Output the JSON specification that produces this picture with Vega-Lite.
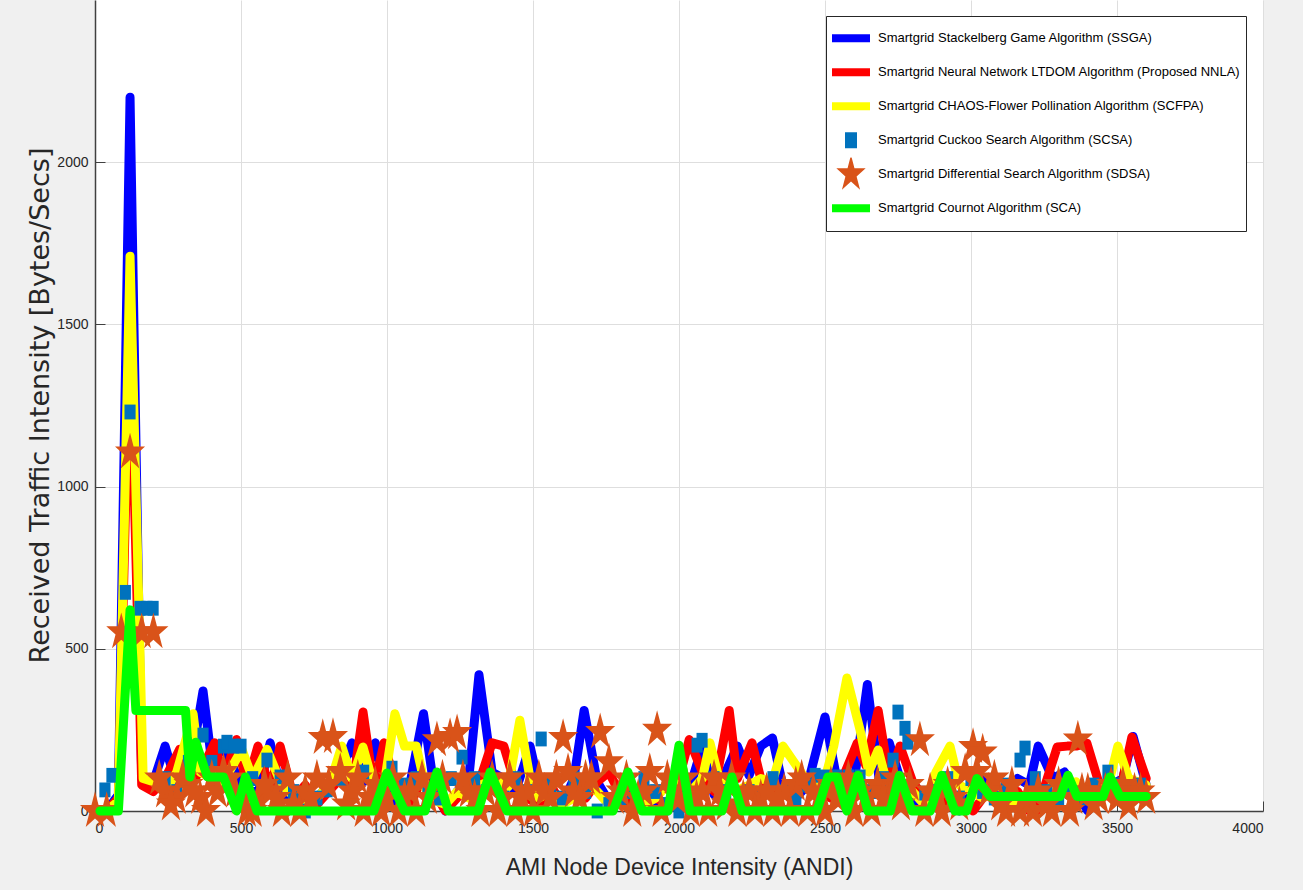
{
  "$schema": "https://vega.github.io/schema/vega-lite/v6.json",
  "width": 1168,
  "height": 811,
  "autosize": {"type": "none"},
  "padding": {"left": 95, "top": 0, "right": 40, "bottom": 79},
  "background": "#f0f0f0",
  "config": {
    "view": {"fill": "white", "stroke": null},
    "axis": {
      "domainColor": "#404040", "domainWidth": 1.5,
      "gridColor": "#dedede", "gridWidth": 1,
      "tickColor": "#404040", "tickSize": -10,
      "labelFont": "Liberation Sans", "labelFontSize": 14, "labelColor": "#262626",
      "titleColor": "#262626", "titleFontWeight": "normal"
    }
  },
  "datasets": {
    "pts": [
      {"s":"SSGA","x":0,"y":0},{"s":"SSGA","x":40,"y":0},{"s":"SSGA","x":80,"y":50},{"s":"SSGA","x":120,"y":2200},{"s":"SSGA","x":160,"y":100},{"s":"SSGA","x":200,"y":90},{"s":"SSGA","x":240,"y":200},{"s":"SSGA","x":280,"y":80},{"s":"SSGA","x":320,"y":100},{"s":"SSGA","x":370,"y":370},
      {"s":"SSGA","x":400,"y":150},{"s":"SSGA","x":440,"y":200},{"s":"SSGA","x":480,"y":120},{"s":"SSGA","x":520,"y":60},{"s":"SSGA","x":560,"y":60},{"s":"SSGA","x":600,"y":210},{"s":"SSGA","x":640,"y":50},{"s":"SSGA","x":680,"y":20},{"s":"SSGA","x":720,"y":0},{"s":"SSGA","x":760,"y":40},
      {"s":"SSGA","x":800,"y":80},{"s":"SSGA","x":840,"y":120},{"s":"SSGA","x":880,"y":210},{"s":"SSGA","x":920,"y":90},{"s":"SSGA","x":960,"y":210},{"s":"SSGA","x":1000,"y":60},{"s":"SSGA","x":1040,"y":0},{"s":"SSGA","x":1080,"y":90},{"s":"SSGA","x":1125,"y":300},{"s":"SSGA","x":1160,"y":80},
      {"s":"SSGA","x":1200,"y":0},{"s":"SSGA","x":1240,"y":60},{"s":"SSGA","x":1280,"y":100},{"s":"SSGA","x":1315,"y":420},{"s":"SSGA","x":1360,"y":120},{"s":"SSGA","x":1400,"y":100},{"s":"SSGA","x":1440,"y":60},{"s":"SSGA","x":1490,"y":200},{"s":"SSGA","x":1520,"y":80},{"s":"SSGA","x":1560,"y":40},
      {"s":"SSGA","x":1600,"y":20},{"s":"SSGA","x":1640,"y":100},{"s":"SSGA","x":1675,"y":310},{"s":"SSGA","x":1720,"y":90},{"s":"SSGA","x":1760,"y":30},{"s":"SSGA","x":1800,"y":50},{"s":"SSGA","x":1840,"y":20},{"s":"SSGA","x":1880,"y":60},{"s":"SSGA","x":1920,"y":20},{"s":"SSGA","x":1960,"y":0},
      {"s":"SSGA","x":2000,"y":40},{"s":"SSGA","x":2040,"y":80},{"s":"SSGA","x":2080,"y":200},{"s":"SSGA","x":2120,"y":50},{"s":"SSGA","x":2160,"y":120},{"s":"SSGA","x":2200,"y":200},{"s":"SSGA","x":2240,"y":110},{"s":"SSGA","x":2280,"y":200},{"s":"SSGA","x":2320,"y":225},{"s":"SSGA","x":2360,"y":60},
      {"s":"SSGA","x":2400,"y":40},{"s":"SSGA","x":2440,"y":80},{"s":"SSGA","x":2500,"y":290},{"s":"SSGA","x":2540,"y":100},{"s":"SSGA","x":2570,"y":60},{"s":"SSGA","x":2600,"y":90},{"s":"SSGA","x":2645,"y":390},{"s":"SSGA","x":2685,"y":100},{"s":"SSGA","x":2720,"y":210},{"s":"SSGA","x":2760,"y":90},
      {"s":"SSGA","x":2800,"y":50},{"s":"SSGA","x":2840,"y":0},{"s":"SSGA","x":2880,"y":60},{"s":"SSGA","x":2920,"y":30},{"s":"SSGA","x":2960,"y":0},{"s":"SSGA","x":3000,"y":50},{"s":"SSGA","x":3040,"y":100},{"s":"SSGA","x":3080,"y":60},{"s":"SSGA","x":3120,"y":40},{"s":"SSGA","x":3160,"y":100},
      {"s":"SSGA","x":3200,"y":80},{"s":"SSGA","x":3230,"y":200},{"s":"SSGA","x":3280,"y":100},{"s":"SSGA","x":3320,"y":120},{"s":"SSGA","x":3360,"y":60},{"s":"SSGA","x":3400,"y":0},{"s":"SSGA","x":3440,"y":50},{"s":"SSGA","x":3480,"y":80},{"s":"SSGA","x":3520,"y":100},{"s":"SSGA","x":3555,"y":230},{"s":"SSGA","x":3600,"y":80},

      {"s":"NNLA","x":0,"y":0},{"s":"NNLA","x":40,"y":0},{"s":"NNLA","x":80,"y":40},{"s":"NNLA","x":120,"y":1500},{"s":"NNLA","x":160,"y":80},{"s":"NNLA","x":200,"y":60},{"s":"NNLA","x":240,"y":100},{"s":"NNLA","x":290,"y":190},{"s":"NNLA","x":320,"y":80},{"s":"NNLA","x":360,"y":120},
      {"s":"NNLA","x":410,"y":210},{"s":"NNLA","x":440,"y":100},{"s":"NNLA","x":485,"y":220},{"s":"NNLA","x":520,"y":80},{"s":"NNLA","x":558,"y":200},{"s":"NNLA","x":600,"y":60},{"s":"NNLA","x":634,"y":200},{"s":"NNLA","x":680,"y":40},{"s":"NNLA","x":720,"y":80},{"s":"NNLA","x":760,"y":20},
      {"s":"NNLA","x":800,"y":60},{"s":"NNLA","x":840,"y":100},{"s":"NNLA","x":880,"y":60},{"s":"NNLA","x":918,"y":305},{"s":"NNLA","x":955,"y":70},{"s":"NNLA","x":990,"y":210},{"s":"NNLA","x":1040,"y":40},{"s":"NNLA","x":1080,"y":20},{"s":"NNLA","x":1120,"y":100},{"s":"NNLA","x":1160,"y":60},
      {"s":"NNLA","x":1200,"y":0},{"s":"NNLA","x":1240,"y":40},{"s":"NNLA","x":1280,"y":80},{"s":"NNLA","x":1320,"y":100},{"s":"NNLA","x":1360,"y":210},{"s":"NNLA","x":1400,"y":200},{"s":"NNLA","x":1440,"y":80},{"s":"NNLA","x":1480,"y":40},{"s":"NNLA","x":1520,"y":20},{"s":"NNLA","x":1560,"y":80},
      {"s":"NNLA","x":1600,"y":20},{"s":"NNLA","x":1640,"y":60},{"s":"NNLA","x":1680,"y":40},{"s":"NNLA","x":1720,"y":90},{"s":"NNLA","x":1760,"y":120},{"s":"NNLA","x":1800,"y":50},{"s":"NNLA","x":1840,"y":20},{"s":"NNLA","x":1880,"y":80},{"s":"NNLA","x":1920,"y":40},{"s":"NNLA","x":1960,"y":20},
      {"s":"NNLA","x":2000,"y":100},{"s":"NNLA","x":2035,"y":220},{"s":"NNLA","x":2080,"y":120},{"s":"NNLA","x":2120,"y":60},{"s":"NNLA","x":2172,"y":310},{"s":"NNLA","x":2200,"y":100},{"s":"NNLA","x":2250,"y":210},{"s":"NNLA","x":2280,"y":100},{"s":"NNLA","x":2320,"y":60},{"s":"NNLA","x":2360,"y":60},
      {"s":"NNLA","x":2400,"y":86},{"s":"NNLA","x":2440,"y":80},{"s":"NNLA","x":2480,"y":60},{"s":"NNLA","x":2520,"y":40},{"s":"NNLA","x":2560,"y":100},{"s":"NNLA","x":2610,"y":209},{"s":"NNLA","x":2640,"y":140},{"s":"NNLA","x":2682,"y":310},{"s":"NNLA","x":2720,"y":100},{"s":"NNLA","x":2757,"y":200},
      {"s":"NNLA","x":2800,"y":90},{"s":"NNLA","x":2840,"y":40},{"s":"NNLA","x":2880,"y":60},{"s":"NNLA","x":2920,"y":20},{"s":"NNLA","x":2960,"y":40},{"s":"NNLA","x":3007,"y":0},{"s":"NNLA","x":3040,"y":40},{"s":"NNLA","x":3080,"y":60},{"s":"NNLA","x":3120,"y":20},{"s":"NNLA","x":3160,"y":60},
      {"s":"NNLA","x":3200,"y":0},{"s":"NNLA","x":3226,"y":0},{"s":"NNLA","x":3295,"y":197},{"s":"NNLA","x":3330,"y":200},{"s":"NNLA","x":3360,"y":200},{"s":"NNLA","x":3397,"y":209},{"s":"NNLA","x":3440,"y":80},{"s":"NNLA","x":3480,"y":60},{"s":"NNLA","x":3520,"y":100},{"s":"NNLA","x":3551,"y":228},{"s":"NNLA","x":3600,"y":100},

      {"s":"SCFPA","x":0,"y":0},{"s":"SCFPA","x":40,"y":0},{"s":"SCFPA","x":80,"y":30},{"s":"SCFPA","x":120,"y":1710},{"s":"SCFPA","x":165,"y":100},{"s":"SCFPA","x":200,"y":90},{"s":"SCFPA","x":240,"y":60},{"s":"SCFPA","x":280,"y":120},{"s":"SCFPA","x":336,"y":300},{"s":"SCFPA","x":360,"y":120},
      {"s":"SCFPA","x":400,"y":100},{"s":"SCFPA","x":440,"y":90},{"s":"SCFPA","x":503,"y":190},{"s":"SCFPA","x":540,"y":100},{"s":"SCFPA","x":589,"y":190},{"s":"SCFPA","x":630,"y":100},{"s":"SCFPA","x":660,"y":60},{"s":"SCFPA","x":700,"y":40},{"s":"SCFPA","x":740,"y":20},{"s":"SCFPA","x":780,"y":60},
      {"s":"SCFPA","x":810,"y":100},{"s":"SCFPA","x":845,"y":200},{"s":"SCFPA","x":880,"y":100},{"s":"SCFPA","x":918,"y":197},{"s":"SCFPA","x":960,"y":60},{"s":"SCFPA","x":990,"y":80},{"s":"SCFPA","x":1027,"y":300},{"s":"SCFPA","x":1060,"y":200},{"s":"SCFPA","x":1100,"y":200},{"s":"SCFPA","x":1140,"y":40},
      {"s":"SCFPA","x":1200,"y":20},{"s":"SCFPA","x":1240,"y":60},{"s":"SCFPA","x":1280,"y":40},{"s":"SCFPA","x":1320,"y":80},{"s":"SCFPA","x":1380,"y":100},{"s":"SCFPA","x":1415,"y":75},{"s":"SCFPA","x":1455,"y":280},{"s":"SCFPA","x":1490,"y":100},{"s":"SCFPA","x":1520,"y":40},{"s":"SCFPA","x":1560,"y":60},
      {"s":"SCFPA","x":1600,"y":20},{"s":"SCFPA","x":1640,"y":40},{"s":"SCFPA","x":1680,"y":80},{"s":"SCFPA","x":1720,"y":60},{"s":"SCFPA","x":1760,"y":20},{"s":"SCFPA","x":1800,"y":40},{"s":"SCFPA","x":1840,"y":60},{"s":"SCFPA","x":1880,"y":20},{"s":"SCFPA","x":1920,"y":40},{"s":"SCFPA","x":1960,"y":80},
      {"s":"SCFPA","x":2000,"y":100},{"s":"SCFPA","x":2040,"y":60},{"s":"SCFPA","x":2080,"y":100},{"s":"SCFPA","x":2106,"y":210},{"s":"SCFPA","x":2140,"y":90},{"s":"SCFPA","x":2190,"y":60},{"s":"SCFPA","x":2240,"y":80},{"s":"SCFPA","x":2280,"y":100},{"s":"SCFPA","x":2320,"y":90},{"s":"SCFPA","x":2356,"y":200},
      {"s":"SCFPA","x":2425,"y":110},{"s":"SCFPA","x":2460,"y":80},{"s":"SCFPA","x":2500,"y":100},{"s":"SCFPA","x":2530,"y":200},{"s":"SCFPA","x":2575,"y":410},{"s":"SCFPA","x":2620,"y":250},{"s":"SCFPA","x":2650,"y":120},{"s":"SCFPA","x":2682,"y":188},{"s":"SCFPA","x":2720,"y":60},{"s":"SCFPA","x":2760,"y":40},
      {"s":"SCFPA","x":2800,"y":60},{"s":"SCFPA","x":2840,"y":20},{"s":"SCFPA","x":2880,"y":120},{"s":"SCFPA","x":2928,"y":200},{"s":"SCFPA","x":2960,"y":80},{"s":"SCFPA","x":3000,"y":60},{"s":"SCFPA","x":3040,"y":40},{"s":"SCFPA","x":3080,"y":60},{"s":"SCFPA","x":3120,"y":40},{"s":"SCFPA","x":3160,"y":20},
      {"s":"SCFPA","x":3200,"y":60},{"s":"SCFPA","x":3240,"y":40},{"s":"SCFPA","x":3280,"y":80},{"s":"SCFPA","x":3320,"y":60},{"s":"SCFPA","x":3360,"y":90},{"s":"SCFPA","x":3400,"y":40},{"s":"SCFPA","x":3440,"y":60},{"s":"SCFPA","x":3470,"y":80},{"s":"SCFPA","x":3503,"y":200},{"s":"SCFPA","x":3540,"y":100},{"s":"SCFPA","x":3600,"y":80},

      {"s":"SCSA","x":34,"y":65},{"s":"SCSA","x":58,"y":110},{"s":"SCSA","x":104,"y":674},{"s":"SCSA","x":120,"y":1230},{"s":"SCSA","x":154,"y":625},{"s":"SCSA","x":178,"y":625},{"s":"SCSA","x":199,"y":625},{"s":"SCSA","x":240,"y":100},{"s":"SCSA","x":280,"y":60},{"s":"SCSA","x":320,"y":150},
      {"s":"SCSA","x":370,"y":234},{"s":"SCSA","x":400,"y":150},{"s":"SCSA","x":440,"y":200},{"s":"SCSA","x":452,"y":212},{"s":"SCSA","x":475,"y":200},{"s":"SCSA","x":500,"y":200},{"s":"SCSA","x":540,"y":100},{"s":"SCSA","x":589,"y":157},{"s":"SCSA","x":634,"y":105},{"s":"SCSA","x":680,"y":60},
      {"s":"SCSA","x":720,"y":0},{"s":"SCSA","x":760,"y":40},{"s":"SCSA","x":795,"y":65},{"s":"SCSA","x":840,"y":100},{"s":"SCSA","x":880,"y":60},{"s":"SCSA","x":920,"y":120},{"s":"SCSA","x":960,"y":40},{"s":"SCSA","x":1017,"y":132},{"s":"SCSA","x":1060,"y":80},{"s":"SCSA","x":1100,"y":100},
      {"s":"SCSA","x":1140,"y":60},{"s":"SCSA","x":1180,"y":40},{"s":"SCSA","x":1220,"y":100},{"s":"SCSA","x":1257,"y":166},{"s":"SCSA","x":1300,"y":100},{"s":"SCSA","x":1340,"y":60},{"s":"SCSA","x":1400,"y":40},{"s":"SCSA","x":1440,"y":100},{"s":"SCSA","x":1480,"y":60},{"s":"SCSA","x":1528,"y":222},
      {"s":"SCSA","x":1560,"y":80},{"s":"SCSA","x":1600,"y":40},{"s":"SCSA","x":1640,"y":100},{"s":"SCSA","x":1680,"y":60},{"s":"SCSA","x":1720,"y":0},{"s":"SCSA","x":1760,"y":20},{"s":"SCSA","x":1800,"y":40},{"s":"SCSA","x":1840,"y":60},{"s":"SCSA","x":1880,"y":100},{"s":"SCSA","x":1920,"y":60},
      {"s":"SCSA","x":1960,"y":20},{"s":"SCSA","x":2000,"y":0},{"s":"SCSA","x":2062,"y":203},{"s":"SCSA","x":2079,"y":218},{"s":"SCSA","x":2120,"y":100},{"s":"SCSA","x":2160,"y":60},{"s":"SCSA","x":2200,"y":0},{"s":"SCSA","x":2240,"y":60},{"s":"SCSA","x":2280,"y":40},{"s":"SCSA","x":2322,"y":100},
      {"s":"SCSA","x":2360,"y":60},{"s":"SCSA","x":2400,"y":40},{"s":"SCSA","x":2440,"y":80},{"s":"SCSA","x":2466,"y":110},{"s":"SCSA","x":2500,"y":105},{"s":"SCSA","x":2540,"y":105},{"s":"SCSA","x":2580,"y":105},{"s":"SCSA","x":2620,"y":105},{"s":"SCSA","x":2660,"y":60},{"s":"SCSA","x":2700,"y":100},
      {"s":"SCSA","x":2733,"y":157},{"s":"SCSA","x":2750,"y":305},{"s":"SCSA","x":2774,"y":255},{"s":"SCSA","x":2784,"y":212},{"s":"SCSA","x":2842,"y":55},{"s":"SCSA","x":2880,"y":60},{"s":"SCSA","x":2920,"y":100},{"s":"SCSA","x":2960,"y":40},{"s":"SCSA","x":3000,"y":100},{"s":"SCSA","x":3040,"y":60},
      {"s":"SCSA","x":3080,"y":40},{"s":"SCSA","x":3120,"y":80},{"s":"SCSA","x":3168,"y":157},{"s":"SCSA","x":3185,"y":194},{"s":"SCSA","x":3220,"y":100},{"s":"SCSA","x":3260,"y":60},{"s":"SCSA","x":3300,"y":40},{"s":"SCSA","x":3340,"y":60},{"s":"SCSA","x":3380,"y":40},{"s":"SCSA","x":3420,"y":80},
      {"s":"SCSA","x":3469,"y":120},{"s":"SCSA","x":3500,"y":80},{"s":"SCSA","x":3540,"y":60},{"s":"SCSA","x":3580,"y":80},

      {"s":"SDSA","x":0,"y":0},{"s":"SDSA","x":40,"y":0},{"s":"SDSA","x":90,"y":551},{"s":"SDSA","x":120,"y":1105},{"s":"SDSA","x":160,"y":551},{"s":"SDSA","x":200,"y":551},{"s":"SDSA","x":240,"y":60},{"s":"SDSA","x":280,"y":40},{"s":"SDSA","x":320,"y":80},{"s":"SDSA","x":360,"y":40},
      {"s":"SDSA","x":400,"y":100},{"s":"SDSA","x":440,"y":120},{"s":"SDSA","x":480,"y":60},{"s":"SDSA","x":520,"y":0},{"s":"SDSA","x":560,"y":40},{"s":"SDSA","x":600,"y":60},{"s":"SDSA","x":640,"y":0},{"s":"SDSA","x":680,"y":20},{"s":"SDSA","x":720,"y":60},{"s":"SDSA","x":760,"y":100},
      {"s":"SDSA","x":780,"y":225},{"s":"SDSA","x":815,"y":228},{"s":"SDSA","x":840,"y":120},{"s":"SDSA","x":880,"y":60},{"s":"SDSA","x":920,"y":0},{"s":"SDSA","x":960,"y":80},{"s":"SDSA","x":1000,"y":40},{"s":"SDSA","x":1040,"y":0},{"s":"SDSA","x":1080,"y":60},{"s":"SDSA","x":1120,"y":100},
      {"s":"SDSA","x":1171,"y":218},{"s":"SDSA","x":1216,"y":228},{"s":"SDSA","x":1240,"y":240},{"s":"SDSA","x":1280,"y":60},{"s":"SDSA","x":1320,"y":0},{"s":"SDSA","x":1360,"y":100},{"s":"SDSA","x":1400,"y":40},{"s":"SDSA","x":1440,"y":0},{"s":"SDSA","x":1480,"y":60},{"s":"SDSA","x":1520,"y":100},
      {"s":"SDSA","x":1560,"y":40},{"s":"SDSA","x":1603,"y":225},{"s":"SDSA","x":1640,"y":60},{"s":"SDSA","x":1680,"y":100},{"s":"SDSA","x":1730,"y":243},{"s":"SDSA","x":1760,"y":150},{"s":"SDSA","x":1800,"y":60},{"s":"SDSA","x":1840,"y":0},{"s":"SDSA","x":1880,"y":60},{"s":"SDSA","x":1925,"y":250},
      {"s":"SDSA","x":1960,"y":100},{"s":"SDSA","x":2000,"y":40},{"s":"SDSA","x":2040,"y":0},{"s":"SDSA","x":2080,"y":60},{"s":"SDSA","x":2120,"y":100},{"s":"SDSA","x":2160,"y":20},{"s":"SDSA","x":2200,"y":0},{"s":"SDSA","x":2240,"y":60},{"s":"SDSA","x":2280,"y":40},{"s":"SDSA","x":2320,"y":0},
      {"s":"SDSA","x":2360,"y":60},{"s":"SDSA","x":2400,"y":80},{"s":"SDSA","x":2440,"y":0},{"s":"SDSA","x":2480,"y":40},{"s":"SDSA","x":2520,"y":80},{"s":"SDSA","x":2560,"y":60},{"s":"SDSA","x":2600,"y":0},{"s":"SDSA","x":2640,"y":40},{"s":"SDSA","x":2680,"y":80},{"s":"SDSA","x":2720,"y":60},
      {"s":"SDSA","x":2760,"y":20},{"s":"SDSA","x":2825,"y":218},{"s":"SDSA","x":2860,"y":60},{"s":"SDSA","x":2900,"y":0},{"s":"SDSA","x":2940,"y":40},{"s":"SDSA","x":2980,"y":120},{"s":"SDSA","x":3007,"y":197},{"s":"SDSA","x":3040,"y":180},{"s":"SDSA","x":3080,"y":100},{"s":"SDSA","x":3120,"y":0},
      {"s":"SDSA","x":3168,"y":0},{"s":"SDSA","x":3212,"y":0},{"s":"SDSA","x":3277,"y":0},{"s":"SDSA","x":3339,"y":0},{"s":"SDSA","x":3366,"y":220},{"s":"SDSA","x":3400,"y":60},{"s":"SDSA","x":3440,"y":40},{"s":"SDSA","x":3480,"y":80},{"s":"SDSA","x":3520,"y":80},{"s":"SDSA","x":3560,"y":60},
      {"s":"SDSA","x":3600,"y":40},
      {"s":"SDSA","x":220,"y":100},{"s":"SDSA","x":260,"y":20},{"s":"SDSA","x":300,"y":100},{"s":"SDSA","x":340,"y":60},{"s":"SDSA","x":380,"y":0},{"s":"SDSA","x":420,"y":60},{"s":"SDSA","x":460,"y":100},{"s":"SDSA","x":500,"y":40},{"s":"SDSA","x":540,"y":0},{"s":"SDSA","x":580,"y":80},
      {"s":"SDSA","x":620,"y":40},{"s":"SDSA","x":660,"y":100},{"s":"SDSA","x":700,"y":0},{"s":"SDSA","x":740,"y":40},{"s":"SDSA","x":800,"y":80},{"s":"SDSA","x":860,"y":20},{"s":"SDSA","x":900,"y":100},{"s":"SDSA","x":940,"y":40},{"s":"SDSA","x":980,"y":0},{"s":"SDSA","x":1020,"y":100},
      {"s":"SDSA","x":1060,"y":40},{"s":"SDSA","x":1100,"y":0},{"s":"SDSA","x":1140,"y":40},{"s":"SDSA","x":1190,"y":100},{"s":"SDSA","x":1260,"y":100},{"s":"SDSA","x":1300,"y":40},{"s":"SDSA","x":1340,"y":60},{"s":"SDSA","x":1380,"y":0},{"s":"SDSA","x":1420,"y":100},{"s":"SDSA","x":1460,"y":40},
      {"s":"SDSA","x":1500,"y":0},{"s":"SDSA","x":1540,"y":60},{"s":"SDSA","x":1580,"y":100},{"s":"SDSA","x":1620,"y":120},{"s":"SDSA","x":1660,"y":40},{"s":"SDSA","x":1700,"y":100},{"s":"SDSA","x":1780,"y":40},{"s":"SDSA","x":1820,"y":100},{"s":"SDSA","x":1860,"y":40},{"s":"SDSA","x":1900,"y":120},
      {"s":"SDSA","x":1940,"y":0},{"s":"SDSA","x":1980,"y":60},{"s":"SDSA","x":2020,"y":100},{"s":"SDSA","x":2060,"y":40},{"s":"SDSA","x":2100,"y":0},{"s":"SDSA","x":2140,"y":60},{"s":"SDSA","x":2180,"y":100},{"s":"SDSA","x":2220,"y":40},{"s":"SDSA","x":2260,"y":0},{"s":"SDSA","x":2300,"y":60},
      {"s":"SDSA","x":2340,"y":40},{"s":"SDSA","x":2380,"y":0},{"s":"SDSA","x":2420,"y":100},{"s":"SDSA","x":2460,"y":60},{"s":"SDSA","x":2500,"y":0},{"s":"SDSA","x":2540,"y":40},{"s":"SDSA","x":2580,"y":100},{"s":"SDSA","x":2620,"y":60},{"s":"SDSA","x":2660,"y":0},{"s":"SDSA","x":2700,"y":40},
      {"s":"SDSA","x":2740,"y":100},{"s":"SDSA","x":2790,"y":80},{"s":"SDSA","x":2840,"y":0},{"s":"SDSA","x":2880,"y":40},{"s":"SDSA","x":2920,"y":80},{"s":"SDSA","x":2960,"y":20},{"s":"SDSA","x":3020,"y":120},{"s":"SDSA","x":3060,"y":60},{"s":"SDSA","x":3100,"y":20},{"s":"SDSA","x":3140,"y":80},
      {"s":"SDSA","x":3190,"y":40},{"s":"SDSA","x":3230,"y":60},{"s":"SDSA","x":3260,"y":20},{"s":"SDSA","x":3300,"y":80},{"s":"SDSA","x":3350,"y":40},{"s":"SDSA","x":3380,"y":60},{"s":"SDSA","x":3420,"y":20},{"s":"SDSA","x":3460,"y":60},{"s":"SDSA","x":3500,"y":40},{"s":"SDSA","x":3540,"y":20},
      {"s":"SDSA","x":3580,"y":60},

      {"s":"SCA","x":17,"y":0},{"s":"SCA","x":80,"y":0},{"s":"SCA","x":120,"y":620},{"s":"SCA","x":140,"y":310},{"s":"SCA","x":310,"y":310},{"s":"SCA","x":325,"y":105},{"s":"SCA","x":345,"y":212},{"s":"SCA","x":385,"y":105},{"s":"SCA","x":440,"y":105},{"s":"SCA","x":485,"y":0},
      {"s":"SCA","x":515,"y":105},{"s":"SCA","x":555,"y":0},{"s":"SCA","x":955,"y":0},{"s":"SCA","x":1000,"y":117},{"s":"SCA","x":1060,"y":0},{"s":"SCA","x":1130,"y":0},{"s":"SCA","x":1171,"y":120},{"s":"SCA","x":1210,"y":0},{"s":"SCA","x":1312,"y":0},{"s":"SCA","x":1353,"y":120},
      {"s":"SCA","x":1411,"y":0},{"s":"SCA","x":1774,"y":0},{"s":"SCA","x":1825,"y":120},{"s":"SCA","x":1873,"y":0},{"s":"SCA","x":1962,"y":0},{"s":"SCA","x":2000,"y":203},{"s":"SCA","x":2038,"y":0},{"s":"SCA","x":2147,"y":0},{"s":"SCA","x":2181,"y":105},{"s":"SCA","x":2216,"y":0},
      {"s":"SCA","x":2472,"y":0},{"s":"SCA","x":2510,"y":105},{"s":"SCA","x":2541,"y":105},{"s":"SCA","x":2575,"y":0},{"s":"SCA","x":2613,"y":110},{"s":"SCA","x":2647,"y":0},{"s":"SCA","x":2723,"y":0},{"s":"SCA","x":2755,"y":110},{"s":"SCA","x":2798,"y":0},{"s":"SCA","x":2860,"y":0},
      {"s":"SCA","x":2900,"y":110},{"s":"SCA","x":2945,"y":0},{"s":"SCA","x":2985,"y":0},{"s":"SCA","x":3020,"y":100},{"s":"SCA","x":3065,"y":45},{"s":"SCA","x":3305,"y":45},{"s":"SCA","x":3332,"y":110},{"s":"SCA","x":3363,"y":45},{"s":"SCA","x":3452,"y":45},{"s":"SCA","x":3476,"y":105},
      {"s":"SCA","x":3510,"y":45},{"s":"SCA","x":3600,"y":45}
    ]
  },
  "data": {"name": "pts"},
  "encoding": {
    "x": {
      "field": "x", "type": "quantitative",
      "scale": {"domain": [0, 4000], "nice": false, "zero": false},
      "axis": {
        "values": [0, 500, 1000, 1500, 2000, 2500, 3000, 3500, 4000],
        "format": "d",
        "title": "AMI Node Device Intensity (ANDI)",
        "titleFont": "Liberation Sans",
        "titleFontSize": 23,
        "titleX": 584, "titleY": 63, "titleBaseline": "alphabetic", "titleAlign": "center", "titleAnchor": null,
        "labelPadding": 20
      }
    },
    "y": {
      "field": "y", "type": "quantitative",
      "scale": {"domain": [0, 2500], "nice": false},
      "axis": {
        "values": [0, 500, 1000, 1500, 2000],
        "format": "d",
        "title": "Received Traffic Intensity [Bytes/Secs]",
        "titleFont": "DejaVu Sans",
        "titleFontSize": 27,
        "titleX": -47, "titleY": 405, "titleAngle": -90, "titleBaseline": "alphabetic", "titleAlign": "center", "titleAnchor": null,
        "labelPadding": 17
      }
    },
    "color": {
      "field": "s", "type": "nominal",
      "scale": {
        "domain": ["SSGA", "NNLA", "SCFPA", "SCSA", "SDSA", "SCA"],
        "range": ["#0000ff", "#ff0000", "#ffff00", "#0072bd", "#d95319", "#00ff00"]
      },
      "legend": {
        "orient": "none", "legendX": 731, "legendY": 16, "title": null,
        "strokeColor": "#262626", "fillColor": "white", "padding": 5.5,
        "clipHeight": 33.5, "rowPadding": 0, "symbolOffset": -3.5,
        "labelFont": "Liberation Sans", "labelFontSize": 13, "labelColor": "#000000", "labelOffset": 4, "labelLimit": 600,
        "labelExpr": "datum.value == 'SSGA' ? 'Smartgrid Stackelberg Game Algorithm (SSGA)' : datum.value == 'NNLA' ? 'Smartgrid Neural Network LTDOM Algorithm (Proposed NNLA)' : datum.value == 'SCFPA' ? 'Smartgrid CHAOS-Flower Pollination Algorithm (SCFPA)' : datum.value == 'SCSA' ? 'Smartgrid Cuckoo Search Algorithm (SCSA)' : datum.value == 'SDSA' ? 'Smartgrid Differential Search Algorithm (SDSA)' : 'Smartgrid Cournot Algorithm (SCA)'",
        "encode": {
          "symbols": {
            "update": {
              "shape": {"signal": "datum.value == 'SCSA' ? 'M-0.75,-1L0.75,-1L0.75,1L-0.75,1Z' : datum.value == 'SDSA' ? 'M0,-1.25L0.2245,-0.386L0.951,-0.386L0.363,0.148L0.588,1.011L0,0.478L-0.588,1.011L-0.363,0.148L-0.951,-0.386L-0.2245,-0.386Z' : 'stroke'"},
              "size": {"signal": "datum.value == 'SCSA' ? 256 : datum.value == 'SDSA' ? 950 : 1444"},
              "fill": {"signal": "datum.value == 'SCSA' || datum.value == 'SDSA' ? scale('color', datum.value) : 'transparent'"},
              "stroke": {"signal": "scale('color', datum.value)"},
              "strokeWidth": {"value": 8},
              "opacity": {"value": 1},
              "fillOpacity": {"value": 1},
              "strokeOpacity": {"signal": "datum.value == 'SCSA' || datum.value == 'SDSA' ? 0 : 1"}
            }
          }
        }
      }
    }
  },
  "layer": [
    {"transform": [{"filter": "datum.s == 'SSGA'"}], "mark": {"type": "line", "strokeWidth": 9, "strokeCap": "round", "strokeJoin": "round"}},
    {"transform": [{"filter": "datum.s == 'NNLA'"}], "mark": {"type": "line", "strokeWidth": 9, "strokeCap": "round", "strokeJoin": "round"}},
    {"transform": [{"filter": "datum.s == 'SCFPA'"}], "mark": {"type": "line", "strokeWidth": 9, "strokeCap": "round", "strokeJoin": "round"}},
    {"transform": [{"filter": "datum.s == 'SCSA'"}], "mark": {"type": "point", "filled": true, "opacity": 1, "strokeWidth": 0, "size": 220, "shape": "M-0.75,-1L0.75,-1L0.75,1L-0.75,1Z"}},
    {"transform": [{"filter": "datum.s == 'SDSA'"}], "mark": {"type": "point", "filled": true, "opacity": 1, "strokeWidth": 0, "size": 1000, "shape": "M0,-1.25L0.2245,-0.386L0.951,-0.386L0.363,0.148L0.588,1.011L0,0.478L-0.588,1.011L-0.363,0.148L-0.951,-0.386L-0.2245,-0.386Z"}},
    {"transform": [{"filter": "datum.s == 'SCA'"}], "mark": {"type": "line", "strokeWidth": 9, "strokeCap": "round", "strokeJoin": "round"}}
  ]
}
